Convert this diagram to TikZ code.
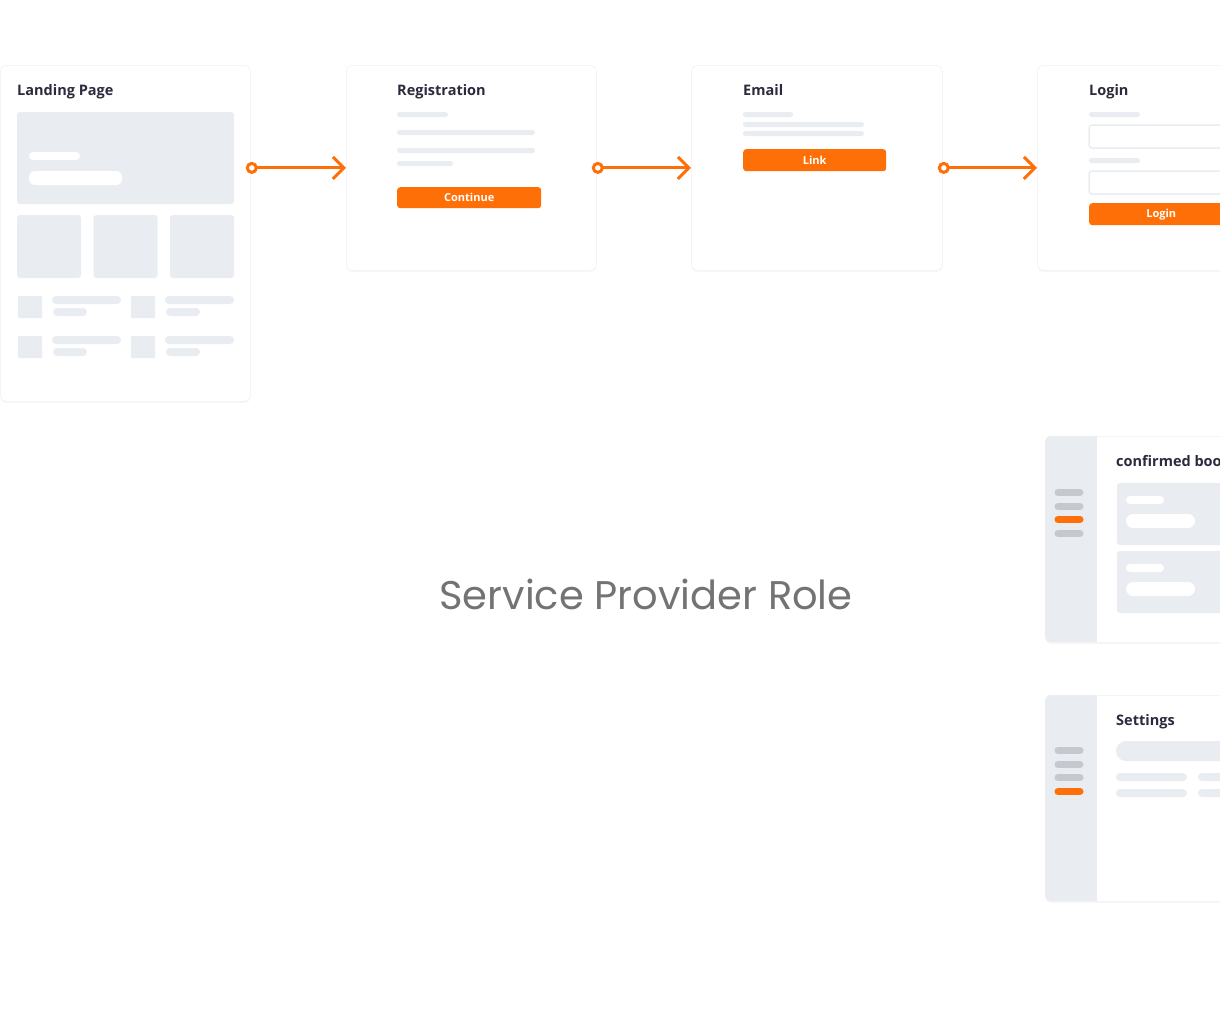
\documentclass[tikz,border=0pt]{standalone}
\usepackage{fontspec}
\newfontfamily\uifont{Open Sans}
\newfontfamily\rolefont{Poppins}
\usetikzlibrary{arrows.meta, positioning, shadows}

\definecolor{brand}{HTML}{FF6F07}
\definecolor{ghost}{HTML}{E9ECF0}
\definecolor{navgray}{HTML}{C5C8CE}
\definecolor{ink}{HTML}{2B2B3D}
\definecolor{rolegray}{HTML}{737373}
\definecolor{edge}{HTML}{F3F4F6}

\tikzset{
  card/.style={draw=edge, fill=white, line width=0.8pt, rounded corners=6pt, inner sep=0pt,
    anchor=north west, drop shadow={shadow xshift=0pt, shadow yshift=-1.5pt, opacity=0.07}},
  ttl/.style={anchor=base west, inner sep=0pt, text=ink, font=\uifont\bfseries\fontsize{14.5}{16}\selectfont},
  btn/.style={anchor=north west, fill=brand, rounded corners=3pt, inner sep=0pt, text=white,
    font=\uifont\bfseries\fontsize{11}{12}\selectfont},
  ph/.style={fill=ghost},
  field/.style={draw=ghost, fill=white, line width=1.5pt, rounded corners=3pt},
  navitem/.style={line width=7pt, line cap=round},
  flow/.style={draw=brand, line width=3pt,
    {Circle[open, length=12pt, width=12pt]}-{Straight Barb[length=11pt, width=22pt]}}
}

\begin{document}
\begin{tikzpicture}[x=1pt, y=-1pt]
\useasboundingbox (0,0) rectangle (1220,1028);
\clip (0,0) rectangle (1220,1028);

% screens of the sign-up flow
\node [card, minimum width=250pt, minimum height=336pt] (landing) at (0,65) {};
\node [card, minimum width=250pt, minimum height=205pt] (reg)     at (346,65) {};
\node [card, minimum width=251pt, minimum height=205pt] (email)   at (691,65) {};
\node [card, minimum width=260pt, minimum height=205pt] (login)   at (1037,65) {};

% landing page
\node [ttl] (landttl) at (17,95) {Landing Page};
\fill [ph, rounded corners=3] (17,112) rectangle (234,204);
\fill [white, rounded corners=4] (29,152) rectangle (80,160);
\fill [white, rounded corners=6] (29,171) rectangle (122,185);
\foreach \x in {17,93.5,170}
  \fill [ph, rounded corners=3] (\x,215) rectangle (\x+64,278);
\foreach \y in {296,336} {
  \foreach \x in {18,131} {
    \fill [ph, rounded corners=1] (\x,\y)       rectangle (\x+24,\y+22);
    \fill [ph, rounded corners=4] (\x+34,\y)    rectangle (\x+103,\y+8);
    \fill [ph, rounded corners=4] (\x+35,\y+12) rectangle (\x+69,\y+20);
  }
}

% registration
\node [ttl] (regttl) at (397,95) {Registration};
\fill [ph, rounded corners=2.5] (397,112) rectangle (448,117);
\fill [ph, rounded corners=2.5] (397,130) rectangle (535,135);
\fill [ph, rounded corners=2.5] (397,148) rectangle (535,153);
\fill [ph, rounded corners=2.5] (397,161) rectangle (453,166);
\node [btn, minimum width=144pt, minimum height=21pt] (cont) at (397,187) {Continue};

% email
\node [ttl] (emailttl) at (743,95) {Email};
\fill [ph, rounded corners=2.5] (743,112) rectangle (793,117);
\fill [ph, rounded corners=2.5] (743,122) rectangle (864,127);
\fill [ph, rounded corners=2.5] (743,131) rectangle (864,136);
\node [btn, minimum width=143pt, minimum height=22pt] (link) at (743,149) {Link};

% login
\node [ttl] (loginttl) at (1089,95) {Login};
\fill [ph, rounded corners=2.5] (1089,112) rectangle (1140,117);
\draw [field] (1089,125) rectangle (1250,148);
\fill [ph, rounded corners=2.5] (1089,158) rectangle (1140,163);
\draw [field] (1089,171) rectangle (1250,194);
\node [btn, minimum width=144pt, minimum height=22pt] (loginbtn) at (1089,203) {Login};

% flow arrows
\draw [flow] ([xshift=-5pt]landing.east |- reg.west) -- (reg.west);
\draw [flow] ([xshift=-5pt]reg.east) -- (email.west);
\draw [flow] ([xshift=-5pt]email.east) -- (login.west);

% dashboard screens
\node [card, minimum width=260pt, minimum height=206pt] (bookings) at (1045,436) {};
\node [card, minimum width=260pt, minimum height=206pt] (settings) at (1045,695) {};
\foreach \top in {436,695} {
  \begin{scope}
    \clip [rounded corners=6] (1045,\top) rectangle (1305,\top+206);
    \fill [ph] (1045,\top) rectangle (1097,\top+206);
  \end{scope}
}

% confirmed bookings
\foreach \y/\c in {492.5/navgray,506.5/navgray,519.5/brand,533.5/navgray}
  \draw [navitem, \c] (1058,\y) -- (1080,\y);
\node [ttl] (bookttl) at (1116,466) {confirmed bookings};
\foreach \y in {483,551} {
  \fill [ph, rounded corners=3] (1117,\y) rectangle (1280,\y+62);
  \fill [white, rounded corners=4] (1126,\y+13) rectangle (1164,\y+21);
  \fill [white, rounded corners=7] (1126,\y+31) rectangle (1195,\y+45);
}

% settings
\foreach \y/\c in {750.5/navgray,764.5/navgray,777.5/navgray,791.5/brand}
  \draw [navitem, \c] (1058,\y) -- (1080,\y);
\node [ttl] (setttl) at (1116,725) {Settings};
\fill [ph, rounded corners=10] (1116,741) rectangle (1300,761);
\foreach \y in {773,789} {
  \fill [ph, rounded corners=4] (1116,\y) rectangle (1187,\y+8);
  \fill [ph, rounded corners=4] (1198,\y) rectangle (1269,\y+8);
}

% role caption
\node [font=\rolefont\fontsize{40}{48}\selectfont, text=rolegray] (role) at (646,594) {Service Provider Role};
\end{tikzpicture}
\end{document}
